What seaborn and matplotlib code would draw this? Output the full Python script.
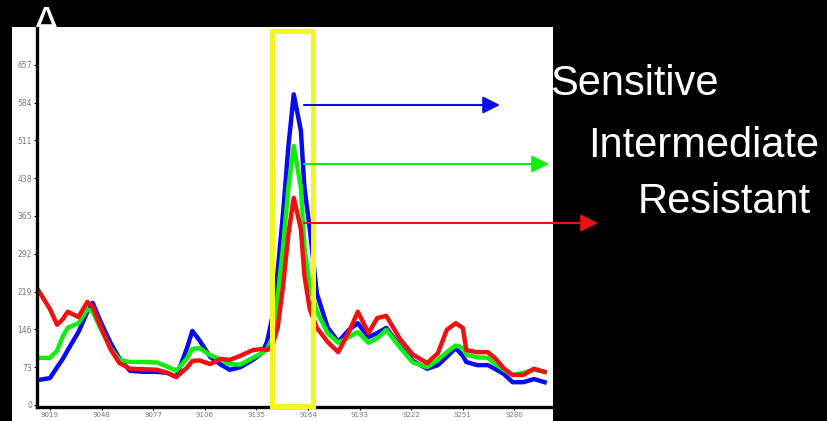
import matplotlib
matplotlib.use("Agg")
import matplotlib.pyplot as plt
import seaborn as sns
import pandas as pd
from matplotlib.patches import Rectangle

# ---- data ----
positions = [9012, 9019, 9023, 9026, 9029, 9035, 9040, 9043, 9047, 9053,
             9058, 9064, 9072, 9079, 9085, 9090, 9096, 9099, 9103, 9109,
             9115, 9120, 9126, 9133, 9138, 9141, 9144, 9147, 9150, 9153,
             9156, 9160, 9162, 9165, 9169, 9175, 9181, 9187, 9192, 9198,
             9203, 9208, 9216, 9223, 9231, 9237, 9242, 9247, 9251, 9253,
             9259, 9265, 9269, 9274, 9279, 9285, 9291, 9297]

sensitive = [48, 52, 73, 88, 106, 141, 180, 197, 164, 120,
             90, 66, 64, 64, 62, 54, 110, 143, 125, 93,
             78, 68, 73, 87, 100, 122, 170, 260, 371, 500,
             600, 530, 420, 340, 215, 150, 122, 145, 158, 131,
             139, 149, 112, 85, 70, 77, 93, 110, 95, 83,
             77, 77, 70, 60, 44, 44, 50, 44]

intermediate = [91, 91, 105, 131, 149, 158, 185, 180, 151, 110,
                87, 83, 83, 82, 74, 66, 90, 108, 110, 96,
                88, 79, 78, 91, 100, 108, 130, 210, 305, 420,
                500, 420, 305, 230, 180, 139, 120, 131, 141, 120,
                129, 145, 110, 82, 73, 87, 102, 115, 110, 97,
                92, 91, 80, 68, 58, 62, 68, 64]

resistant = [224, 185, 155, 165, 180, 170, 199, 190, 155, 108,
             81, 70, 69, 68, 62, 54, 72, 85, 86, 79,
             89, 87, 95, 106, 108, 106, 115, 150, 230, 330,
             400, 340, 250, 185, 149, 122, 102, 141, 180, 139,
             168, 172, 126, 97, 81, 100, 145, 158, 149, 106,
             102, 102, 91, 71, 58, 58, 70, 64]

series_names = ["Sensitive", "Intermediate", "Resistant"]
y_ticks = [0, 73, 146, 219, 292, 365, 438, 511, 584, 657]
x_ticks = [9019, 9048, 9077, 9106, 9135, 9164, 9193, 9222, 9251, 9280]

df = pd.concat([
    pd.DataFrame({"pos": positions, "val": v, "group": n})
    for n, v in zip(series_names, [sensitive, intermediate, resistant])
], ignore_index=True)

W, H = 828, 421
fig = plt.figure(figsize=(W / 100, H / 100), dpi=100)
fig.patch.set_facecolor("black")

def fx(px):
    return px / W

def fy(py):
    return 1 - py / H

# white panel behind the chart
fig.patches.append(Rectangle((fx(12), 0), fx(553) - fx(12), fy(27), transform=fig.transFigure,
                             facecolor="white", edgecolor="none", zorder=-2))
fig.text(fx(32), fy(36), "A", color="white", fontsize=31, family="Liberation Sans",
         ha="left", va="baseline", zorder=-1)

ax = fig.add_axes([fx(37), fy(407), fx(553) - fx(37), fy(28) - fy(407)])
ax.set_facecolor("white")

palette = {"Sensitive": "#0a0aee", "Intermediate": "#10ee10", "Resistant": "#f01010"}
sns.lineplot(data=df, x="pos", y="val", hue="group", palette=palette, hue_order=series_names,
             linewidth=3.2, legend=False, sort=False, ax=ax, estimator=None)

ax.set_xlim(9011.7, 9301.7)
ax.set_ylim(-3.9, 728)
ax.set_xticks(x_ticks)
ax.set_yticks(y_ticks)
ax.set_xticklabels([str(t) for t in x_ticks], fontsize=5, color="#777777")
ax.set_yticklabels([str(t) for t in y_ticks], fontsize=5.5, color="#777777")
ax.tick_params(axis="both", length=2, width=0.8, pad=1.5, color="black")
ax.set_xlabel("")
ax.set_ylabel("")
for s in ["top", "right"]:
    ax.spines[s].set_visible(False)
for s in ["left", "bottom"]:
    ax.spines[s].set_color("black")
    ax.spines[s].set_linewidth(2.4)

# yellow highlight box around the main peak
ax.add_patch(Rectangle((9144, -2), 23, 725, fill=False, edgecolor="#f4f41e",
                       linewidth=3.6, clip_on=False, zorder=5))

# arrows and labels
arrows = [(105, 500, "#0a0aee"), (164, 549, "#10ee10"), (223, 598, "#f01010")]
for py, tip, col in arrows:
    fig.add_artist(matplotlib.patches.FancyArrowPatch(
        (fx(304), fy(py)), (fx(tip), fy(py)), transform=fig.transFigure,
        arrowstyle="-|>", mutation_scale=26, color=col, linewidth=1.5,
        shrinkA=0, shrinkB=0, zorder=6))

labels = [("Sensitive", 550, 95), ("Intermediate", 588, 157), ("Resistant", 638, 213)]
for txt, px, py in labels:
    fig.text(fx(px), fy(py), txt, color="white", fontsize=30, family="Liberation Sans",
             ha="left", va="baseline", zorder=7)

fig.savefig("out.png", dpi=100, facecolor=fig.get_facecolor())
